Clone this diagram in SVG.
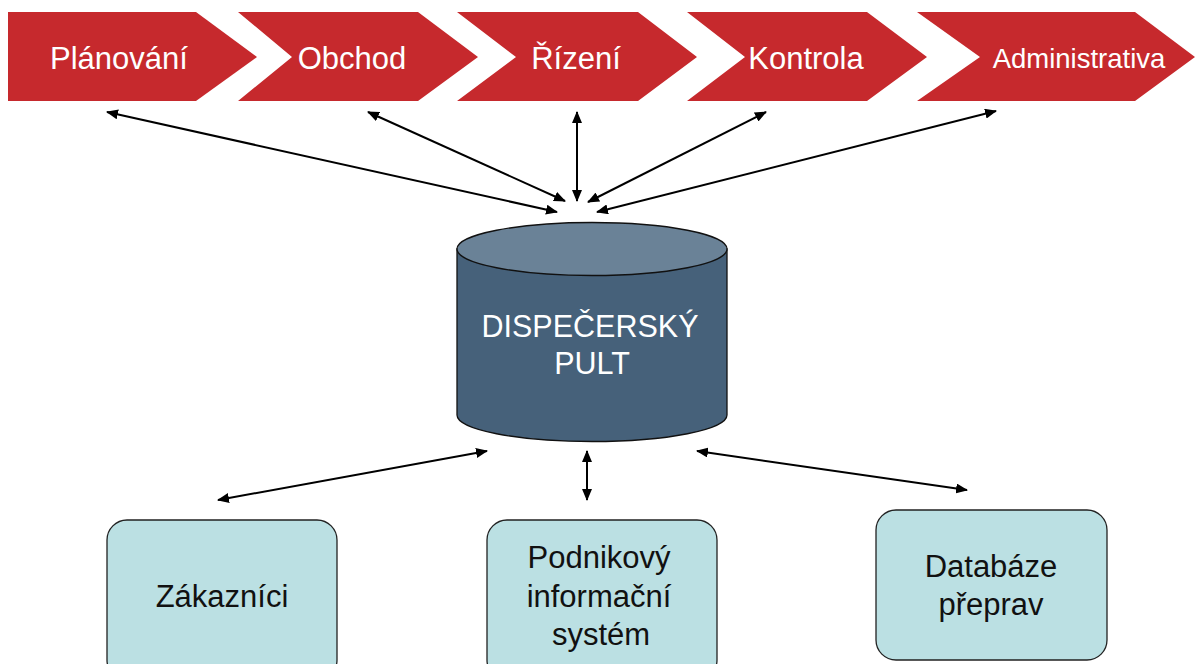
<svg xmlns="http://www.w3.org/2000/svg" width="1195" height="664" viewBox="0 0 1195 664">
<style>
.chev{fill:#c6292d;}
.ct{font-family:"Liberation Sans",Arial,sans-serif;fill:#fff;text-anchor:middle;}
.box{fill:#bbe0e3;stroke:#222;stroke-width:1.3;}
.bt{font-family:"Liberation Sans",Arial,sans-serif;fill:#111;font-size:31px;text-anchor:middle;}
.con{stroke:#000;stroke-width:2;fill:none;marker-start:url(#ah);marker-end:url(#ah);}
</style>
<defs>
<marker id="ah" viewBox="0 0 12 10" refX="11" refY="5" markerWidth="12" markerHeight="10" markerUnits="userSpaceOnUse" orient="auto-start-reverse">
<path d="M0,0 L12,5 L0,10 z" fill="#000"/>
</marker>
</defs>
<rect width="1195" height="664" fill="#fff"/>
<g id="planovani">
<polygon class="chev" points="8,12 196,12 257,57 196,101 8,101"/>
<text class="ct" x="119" y="69" font-size="31">Plánování</text>
</g>
<g id="obchod">
<polygon class="chev" points="238,12 418,12 478,57 418,101 238,101 292,57"/>
<text class="ct" x="352" y="69" font-size="31">Obchod</text>
</g>
<g id="rizeni">
<polygon class="chev" points="457,12 638,12 697,57 638,101 457,101 516,57"/>
<text class="ct" x="576" y="69" font-size="31">Řízení</text>
</g>
<g id="kontrola">
<polygon class="chev" points="687,12 867,12 927,57 867,101 687,101 745,57"/>
<text class="ct" x="806" y="69" font-size="31">Kontrola</text>
</g>
<g id="administrativa">
<polygon class="chev" points="917,12 1135,12 1195,57 1135,101 917,101 980,57"/>
<text class="ct" x="1079" y="68" font-size="27.5">Administrativa</text>
</g>
<g id="dispecersky-pult">
<path d="M457,249 L457,415 A135,26.5 0 0 0 727,415 L727,249 Z" fill="#46617a" stroke="#111" stroke-width="1.3"/>
<ellipse cx="592" cy="249" rx="135" ry="26.5" fill="#6a8297" stroke="#111" stroke-width="1.3"/>
<text class="ct" x="590" y="337" font-size="30.5">DISPEČERSKÝ</text>
<text class="ct" x="592" y="374" font-size="30.5">PULT</text>
</g>
<g id="zakaznici">
<rect class="box" x="107" y="520" width="230" height="160" rx="20"/>
<text class="bt" x="222" y="607">Zákazníci</text>
</g>
<g id="podnikovy">
<rect class="box" x="487" y="520" width="230" height="160" rx="20"/>
<text class="bt" x="599" y="568">Podnikový</text>
<text class="bt" x="599" y="607">informační</text>
<text class="bt" x="601" y="645">systém</text>
</g>
<g id="databaze">
<rect class="box" x="876" y="510" width="231" height="150" rx="20"/>
<text class="bt" x="991" y="577">Databáze</text>
<text class="bt" x="991" y="615">přeprav</text>
</g>
<g id="connectors">
<line class="con" x1="107" y1="112" x2="557" y2="212"/>
<line class="con" x1="368" y1="112" x2="565" y2="201"/>
<line class="con" x1="577" y1="112" x2="577" y2="201"/>
<line class="con" x1="766" y1="112" x2="588" y2="202"/>
<line class="con" x1="996" y1="111" x2="597" y2="212"/>
<line class="con" x1="218" y1="500" x2="487" y2="451"/>
<line class="con" x1="587" y1="451" x2="587" y2="500"/>
<line class="con" x1="697" y1="451" x2="967" y2="490"/>
</g>
</svg>
